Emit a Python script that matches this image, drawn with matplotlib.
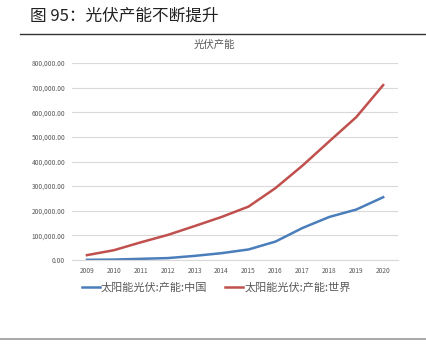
import matplotlib.pyplot as plt
from matplotlib.lines import Line2D

plt.rcParams['font.family'] = ['Noto Sans CJK SC', 'DejaVu Sans']

years = [2009, 2010, 2011, 2012, 2013, 2014, 2015, 2016, 2017, 2018, 2019, 2020]
china = [1000, 2000, 5000, 8000, 17000, 28000, 43000, 75000, 130000, 175000, 205000, 255000]
world = [20000, 40000, 72000, 102000, 138000, 175000, 217000, 292000, 383000, 482000, 580000, 710000]
yticks = [0, 100000, 200000, 300000, 400000, 500000, 600000, 700000, 800000]

fig = plt.figure(figsize=(4.27, 3.44), dpi=100)
ax = fig.add_axes([0.169, 0.244, 0.763, 0.573])

ax.plot(years, china, color='#4a7ebb', lw=1.8, label='太阳能光伏:产能:中国')
ax.plot(years, world, color='#c0504d', lw=1.8, label='太阳能光伏:产能:世界')

ax.set_xlim(2008.45, 2020.55)
ax.set_ylim(0, 800000)
ax.set_xticks(years)
ax.set_xticklabels([str(y) for y in years], fontsize=4.8, color='#595959')
ax.set_yticks(yticks)
ax.set_yticklabels([f'{v:,.2f}' for v in yticks], fontsize=4.8, color='#595959')
ax.tick_params(length=0, pad=5)
ax.grid(axis='y', color='#d9d9d9', lw=0.8)
ax.set_axisbelow(True)
for s in ['top', 'right', 'left']:
    ax.spines[s].set_visible(False)
ax.spines['bottom'].set_color('#d9d9d9')

fig.text(0.503, 0.868, '光伏产能', ha='center', va='center', fontsize=7.5, color='#595959')

ax.legend(loc='upper left', bbox_to_anchor=(0.0, -0.06), ncol=2, frameon=False,
          fontsize=8, handlelength=1.6, handletextpad=0.1, columnspacing=1.6,
          labelcolor='#595959')

# header
fig.text(0.07, 0.953, '图 95：光伏产能不断提升', ha='left', va='center', fontsize=12, color='#222222')
fig.add_artist(Line2D([0.047, 1.0], [0.901, 0.901], color='#333333', lw=1))
fig.add_artist(Line2D([0.0, 1.0], [0.015, 0.015], color='#999999', lw=1.2))

fig.savefig('out.png', dpi=100)
